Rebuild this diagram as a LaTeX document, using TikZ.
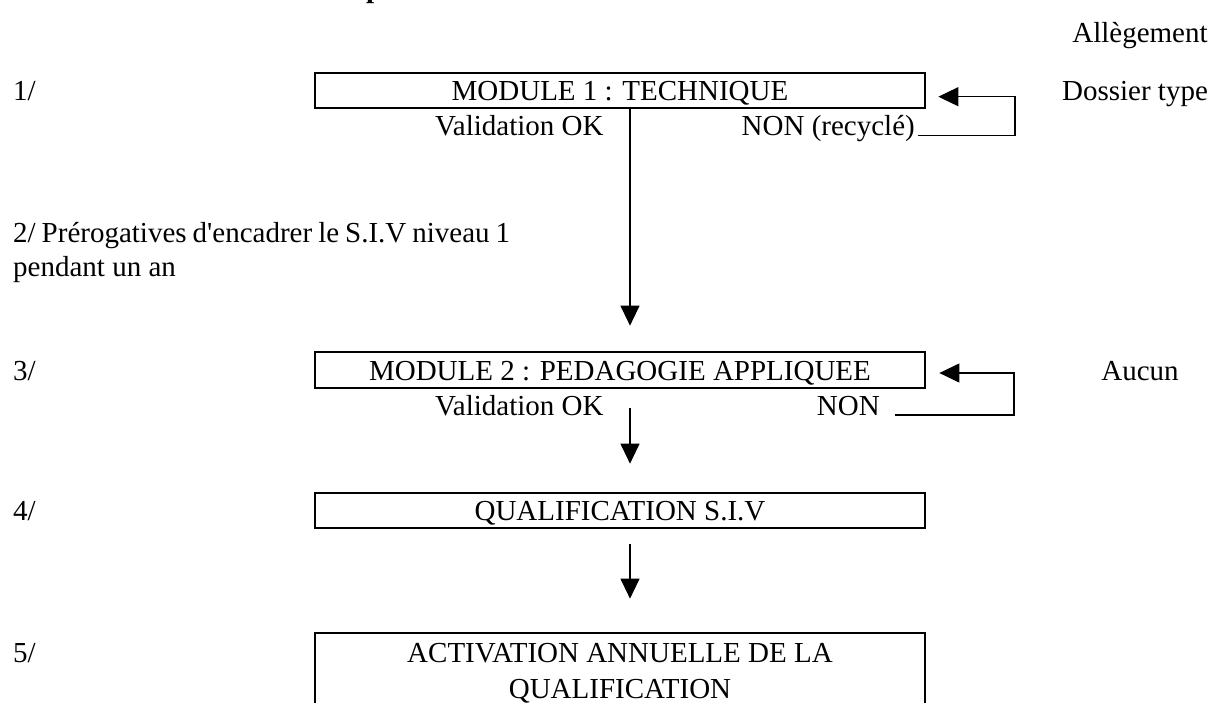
\documentclass[tikz,border=0pt]{standalone}
\usepackage{fontspec}
\setmainfont{Liberation Serif}
\usetikzlibrary{arrows.meta}
\newcommand{\fs}{\fontsize{29}{35}\selectfont}
\begin{document}
\begin{tikzpicture}[x=1pt,y=-1pt,
 txt/.style={font=\fs, inner sep=0, anchor=base},
 lft/.style={font=\fs, inner sep=0, anchor=base west},
 box/.style={draw, line width=2.7pt, inner sep=0, minimum width=610pt, minimum height=35pt},
 conn/.style={line width=1.2pt, -{Triangle[length=20pt,width=19pt]}}]
\useasboundingbox (0,0) rectangle (1226,702);
\clip (0,0) rectangle (1226,702);
\coordinate (ax) at (630,0);
% partial heading glyph at top edge
\node[lft, font=\fs\bfseries] (pp) at (366,-3) {p};
% right column
\node[txt] (al) at (1140,42) {Allègement};
% row 1
\node[box] (b1) at (620,90.5) {};
\node[txt] (t1) at (620,100) {MODULE 1 : TECHNIQUE};
\node[lft] (l1) at (13,100) {1/};
\node[txt] (ds) at (1135,100) {Dossier type};
\node[lft] (v1) at (435,135.5) {Validation OK};
\node[txt, anchor=base east] (n1) at (915,135.5) {NON (recyclé)};
% row 2 text
\node[lft] (l2a) at (13,242) {\makebox[497pt][s]{2/ Prérogatives d\textquotesingle encadrer le S.I.V niveau 1}};
\node[lft] (l2b) at (13,276) {pendant un an};
% row 3
\node[box, minimum height=36pt] (b2) at (620,370) {};
\node[txt] (t2) at (620,380) {MODULE 2 : PEDAGOGIE APPLIQUEE};
\node[lft] (l3) at (13,380) {3/};
\node[txt] (au) at (1140,380) {Aucun};
\node[lft] (v2) at (435,415) {Validation OK};
\node[txt, anchor=base east] (n2) at (880,415) {NON};
% row 4
\node[box] (b4) at (620,510.5) {};
\node[txt] (t4) at (620,520) {QUALIFICATION S.I.V};
\node[lft] (l4) at (13,520) {4/};
% row 5
\node[box, minimum height=110pt] (b5) at (620,688) {};
\node[txt] (t5a) at (620,662) {ACTIVATION ANNUELLE DE LA};
\node[txt] (t5b) at (620,698) {QUALIFICATION};
\node[lft] (l5) at (13,662) {5/};
% connectors
\draw[conn, shorten >=25pt] (b1.south -| ax) -- (b2.north -| ax);
\draw[conn, shorten <=19pt, shorten >=28pt] (b2.south -| ax) -- (b4.north -| ax);
\draw[conn, shorten <=15pt, shorten >=33pt] (b4.south -| ax) -- (b5.north -| ax);
\coordinate (k1) at (1015,96.7);
\draw[conn, shorten >=12pt] ([xshift=3pt]n1.base east) -| (k1) -- (b1.east |- k1);
\coordinate (k2) at (1014,373);
\draw[conn, shorten >=13pt] ([xshift=15pt]n2.base east) -| (k2) -- (b2.east |- k2);
\end{tikzpicture}
\end{document}
